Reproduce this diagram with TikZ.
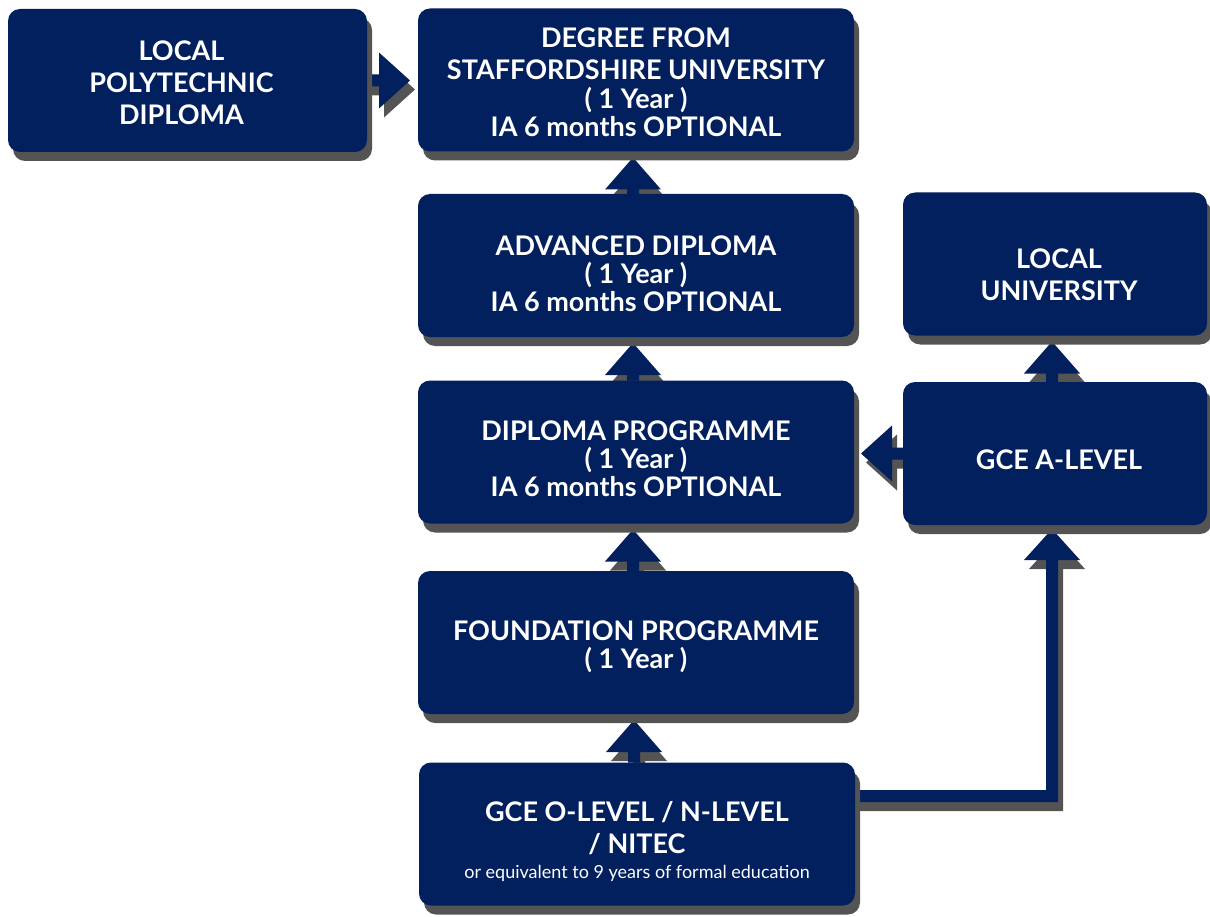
\documentclass[tikz,border=0pt]{standalone}
\usepackage{fontspec}
\setmainfont{Lato}
\usetikzlibrary{shadows,calc,backgrounds}
\definecolor{navy}{HTML}{021F5E}
\definecolor{shadowgray}{HTML}{545454}
\tikzset{
  shad/.style={drop shadow={shadow xshift=5pt, shadow yshift=-9pt, fill=shadowgray, opacity=1}},
  box/.style={shad, fill=navy, rounded corners=12pt, inner sep=0pt, outer sep=0pt},
  txt/.style={text=white, align=center, inner sep=0pt, font=\bfseries\fontsize{27}{32}\selectfont},
  midbox/.style={box, minimum width=436pt, minimum height=143pt},
  sidebox/.style={box, minimum width=304pt, minimum height=143pt},
  arr/.style={shad, fill=navy},
}
\newcommand\vconn[2]{%
  \fill[arr] let \p1=(#1.north), \p2=(#2.south) in
    (\x1-9pt,\y1) -- (\x1-9pt,\y2-38pt) -- (\x1-31pt,\y2-38pt) -- (\x1-3pt,\y2-6pt)
    -- (\x1+25pt,\y2-38pt) -- (\x1+3pt,\y2-38pt) -- (\x1+3pt,\y1) -- cycle;}
\begin{document}
\begin{tikzpicture}[x=1pt,y=-1pt]
\useasboundingbox (0,0) rectangle (1210,917);
% boxes
\node[box, minimum width=359pt, minimum height=143pt,
  label={[txt,yshift=-2pt,xshift=-6pt]center:{LOCAL\\POLYTECHNIC\\DIPLOMA}}] (poly) at (187.5,80.5) {};
\node[midbox, label={[txt,yshift=-2pt]center:{DEGREE FROM\\STAFFORDSHIRE UNIVERSITY\\[-3pt]( 1 Year )\\[-4pt]IA 6 months OPTIONAL}}] (deg) at (636,80) {};
\node[midbox, label={[txt,yshift=-8pt]center:{ADVANCED DIPLOMA\\[-4pt]( 1 Year )\\[-4pt]IA 6 months OPTIONAL}}] (adv) at (636,265.5) {};
\node[sidebox, label={[txt,yshift=-11pt,xshift=4pt]center:{LOCAL\\UNIVERSITY}}] (luni) at (1055,264) {};
\node[midbox, label={[txt,yshift=-7pt]center:{DIPLOMA PROGRAMME\\[-4pt]( 1 Year )\\[-4pt]IA 6 months OPTIONAL}}] (dip) at (636,452) {};
\node[sidebox, label={[txt,yshift=-6pt,xshift=4pt]center:{GCE A-LEVEL}}] (alev) at (1055,453.5) {};
\node[midbox, label={[txt,yshift=-4pt]center:{FOUNDATION PROGRAMME\\[-4pt]( 1 Year )}}] (fnd) at (636,642.5) {};
\node[midbox, label={[txt,yshift=-8pt]center:{GCE O-LEVEL / N-LEVEL\\/ NITEC\\[-7pt]{\mdseries\fontsize{18}{22}\selectfont or equivalent to 9 years of formal education}}}] (olev) at (637,834) {};
% connectors, behind the boxes
\begin{scope}[on background layer]
\vconn{adv}{deg}
\vconn{dip}{adv}
\vconn{fnd}{dip}
\vconn{olev}{fnd}
\vconn{alev}{luni}
\fill[arr] let \p1=(poly.east), \p2=(deg.west) in
  (\x1-4pt,\y1+6pt) -- (\x2-39pt,\y1+6pt) -- (\x2-39pt,\y1+28pt) -- (\x2-8pt,\y1)
  -- (\x2-39pt,\y1-28pt) -- (\x2-39pt,\y1-6pt) -- (\x1-4pt,\y1-6pt) -- cycle;
\fill[arr] let \p1=(alev.west), \p2=(dip.east) in
  (\x1+4pt,\y1+6pt) -- (\x2+38pt,\y1+6pt) -- (\x2+38pt,\y1+28pt) -- (\x2+7pt,\y1)
  -- (\x2+38pt,\y1-28pt) -- (\x2+38pt,\y1-6pt) -- (\x1+4pt,\y1-6pt) -- cycle;
\fill[arr] let \p1=($(olev.east)+(0,-38)$), \p2=(alev.south) in
  (\x1-4pt,\y1+6pt) -- (\x2-9pt,\y1+6pt) -- (\x2-9pt,\y2-35pt) -- (\x2-31pt,\y2-35pt)
  -- (\x2-3pt,\y2-4pt) -- (\x2+25pt,\y2-35pt) -- (\x2+3pt,\y2-35pt) -- (\x2+3pt,\y1-6pt)
  -- (\x1-4pt,\y1-6pt) -- cycle;
\end{scope}
\end{tikzpicture}
\end{document}
